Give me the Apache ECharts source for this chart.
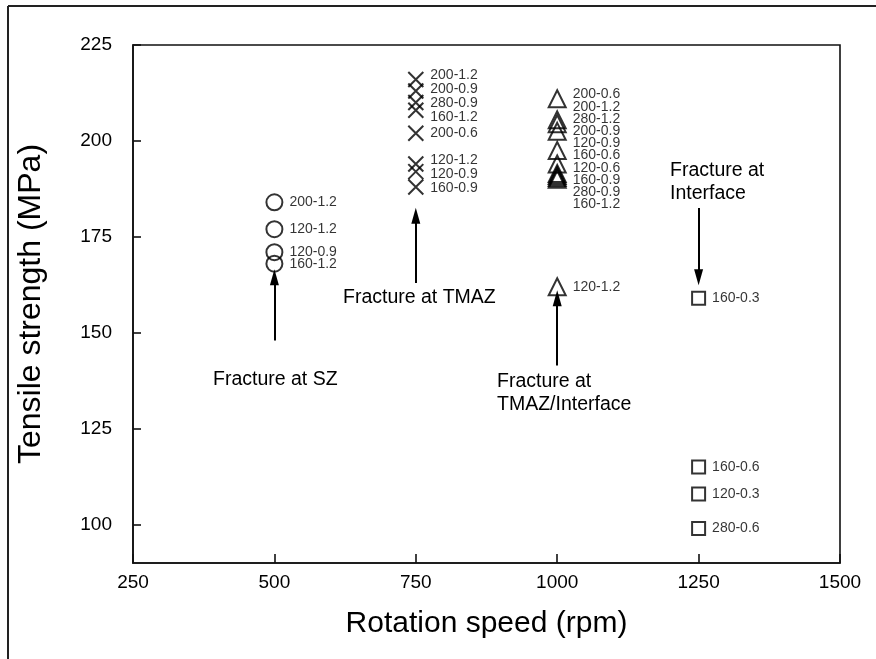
<!DOCTYPE html>
<html>
<head>
<meta charset="utf-8">
<script src="https://cdn.jsdelivr.net/npm/echarts@6/dist/echarts.min.js"></script>
<style>
  html, body { margin: 0; padding: 0; background: #fff; }
  #chart { width: 876px; height: 659px; }
</style>
</head>
<body>
<div id="chart"></div>
<script>
// Tensile strength of joints vs. tool rotation speed, grouped by fracture location.
// Each point is labelled "<travel speed>-<pin offset>".
const xTicks = [250, 500, 750, 1000, 1250, 1500];
const yTicks = [100, 125, 150, 175, 200, 225];

const szSpeed = 500;
const szLabels = ['200-1.2', '120-1.2', '120-0.9', '160-1.2'];
const szStrength = [184, 177, 171, 168];

const tmazSpeed = 750;
const tmazLabels = ['200-1.2', '200-0.9', '280-0.9', '160-1.2', '200-0.6', '120-1.2', '120-0.9', '160-0.9'];
const tmazStrength = [216, 213, 210, 208, 202, 194, 192, 188];

const tmazIfSpeed = 1000;
const tmazIfLabels = ['200-0.6', '200-1.2', '280-1.2', '200-0.9', '120-0.9', '160-0.6', '120-0.6', '160-0.9', '280-0.9', '160-1.2', '120-1.2'];
const tmazIfStrength = [211, 205.5, 204.5, 202.5, 197.5, 194, 191.5, 191, 190.5, 190, 162];

const ifSpeed = 1250;
const ifLabels = ['160-0.3', '160-0.6', '120-0.3', '280-0.6'];
const ifStrength = [159, 115, 108, 99];

const FONT = '"Liberation Sans", Arial, sans-serif';
const INK = '#000';

function points(speed, names, values) {
  return values.map((v, i) => ({ name: names[i], value: [speed, v] }));
}

function group(name, symbol, size, speed, names, values, arrow) {
  return {
    name,
    type: 'scatter',
    symbol,
    symbolSize: size,
    data: points(speed, names, values),
    itemStyle: { color: 'rgba(255,255,255,0)', borderColor: INK, borderWidth: 2 },
    label: {
      show: true,
      position: 'right',
      distance: 6,
      formatter: p => p.name,
      fontFamily: FONT,
      fontSize: 14,
      color: INK
    },
    emphasis: { disabled: true },
    markLine: {
      silent: true,
      symbol: ['none', 'triangle'],
      symbolSize: [9, 16],
      label: { show: false },
      lineStyle: { color: INK, width: 2, type: 'solid' },
      data: [[{ coord: [speed, arrow[0]] }, { coord: [speed, arrow[1]] }]]
    }
  };
}

const groups = [
  { speed: szSpeed, names: szLabels, values: szStrength, gap: 12 },
  { speed: tmazSpeed, names: tmazLabels, values: tmazStrength, gap: 14 },
  { speed: tmazIfSpeed, names: tmazIfLabels, values: tmazIfStrength, gap: 12.2 },
  { speed: ifSpeed, names: ifLabels, values: ifStrength, gap: 12 }
];

const chart = echarts.init(document.getElementById('chart'), null, { renderer: 'canvas' });

chart.setOption({
  animation: false,
  backgroundColor: '#fff',
  grid: { left: 133, right: 36, top: 45, bottom: 96, show: true, borderColor: '#111', borderWidth: 1.6, backgroundColor: 'transparent' },
  xAxis: {
    type: 'value',
    min: 250,
    max: 1500,
    interval: 250,
    name: 'Rotation speed (rpm)',
    nameLocation: 'middle',
    nameGap: 46,
    nameTextStyle: { fontFamily: FONT, fontSize: 30, color: INK },
    axisLine: { show: true, lineStyle: { color: '#111', width: 1.6 } },
    axisTick: { show: true, inside: true, length: 9, lineStyle: { color: '#111', width: 1.6 } },
    axisLabel: { fontFamily: FONT, fontSize: 19, color: INK, margin: 10, customValues: xTicks, formatter: v => String(v) },
    splitLine: { show: false }
  },
  yAxis: {
    type: 'value',
    min: 90,
    max: 225,
    name: 'Tensile strength (MPa)',
    nameLocation: 'middle',
    nameGap: 86,
    nameTextStyle: { fontFamily: FONT, fontSize: 32, color: INK },
    axisLine: { show: true, lineStyle: { color: '#111', width: 1.6 } },
    axisTick: { show: true, inside: true, length: 8, customValues: yTicks, lineStyle: { color: '#111', width: 1.6 } },
    axisLabel: { fontFamily: FONT, fontSize: 19, color: INK, margin: 21, customValues: yTicks, formatter: v => String(v) },
    splitLine: { show: false }
  },
  series: [
    group('SZ', 'circle', 16, szSpeed, szLabels, szStrength, [148, 164.5]),
    group('TMAZ', 'path://M0,0 L10,10 M10,0 L0,10', 15, tmazSpeed, tmazLabels, tmazStrength, [163, 180.5]),
    group('TMAZ/Interface', 'triangle', 17, tmazIfSpeed, tmazIfLabels, tmazIfStrength, [141.5, 159]),
    group('Interface', 'rect', 13, ifSpeed, ifLabels, ifStrength, [182.5, 164.5])
  ],
  graphic: [
    { type: 'line', shape: { x1: 8, y1: 6, x2: 876, y2: 6 }, style: { stroke: '#222', lineWidth: 2 } },
    { type: 'line', shape: { x1: 8, y1: 6, x2: 8, y2: 659 }, style: { stroke: '#222', lineWidth: 2 } },
    { type: 'text', left: 213, top: 370, style: { text: 'Fracture at SZ', font: '19.5px ' + FONT, fill: INK } },
    { type: 'text', left: 343, top: 288, style: { text: 'Fracture at TMAZ', font: '19.5px ' + FONT, fill: INK } },
    { type: 'text', left: 497, top: 370, style: { text: 'Fracture at\nTMAZ/Interface', font: '19.5px ' + FONT, fill: INK, lineHeight: 23 } },
    { type: 'text', left: 670, top: 159, style: { text: 'Fracture at\nInterface', font: '19.5px ' + FONT, fill: INK, lineHeight: 23 } }
  ]
});

// Spread crowded point labels vertically so they stay legible,
// keeping each stack centred on its markers.
function spreadLabels(g) {
  const px = g.values.map(v => chart.convertToPixel({ gridIndex: 0 }, [g.speed, v])[1]);
  const order = px.map((_, i) => i).sort((a, b) => px[a] - px[b]);
  const pos = order.map(i => px[i]);
  for (let iter = 0; iter < 300; iter++) {
    let moved = false;
    for (let k = 1; k < pos.length; k++) {
      const d = pos[k] - pos[k - 1];
      if (d < g.gap - 0.01) {
        const push = (g.gap - d) / 2;
        pos[k - 1] -= push;
        pos[k] += push;
        moved = true;
      }
    }
    if (!moved) break;
  }
  const offsets = new Array(px.length);
  order.forEach((i, k) => { offsets[i] = pos[k] - px[i]; });
  return g.values.map((v, i) => ({
    name: g.names[i],
    value: [g.speed, v],
    label: { offset: [0, offsets[i]] }
  }));
}

chart.setOption({ series: groups.map(g => ({ data: spreadLabels(g) })) });
</script>
</body>
</html>
